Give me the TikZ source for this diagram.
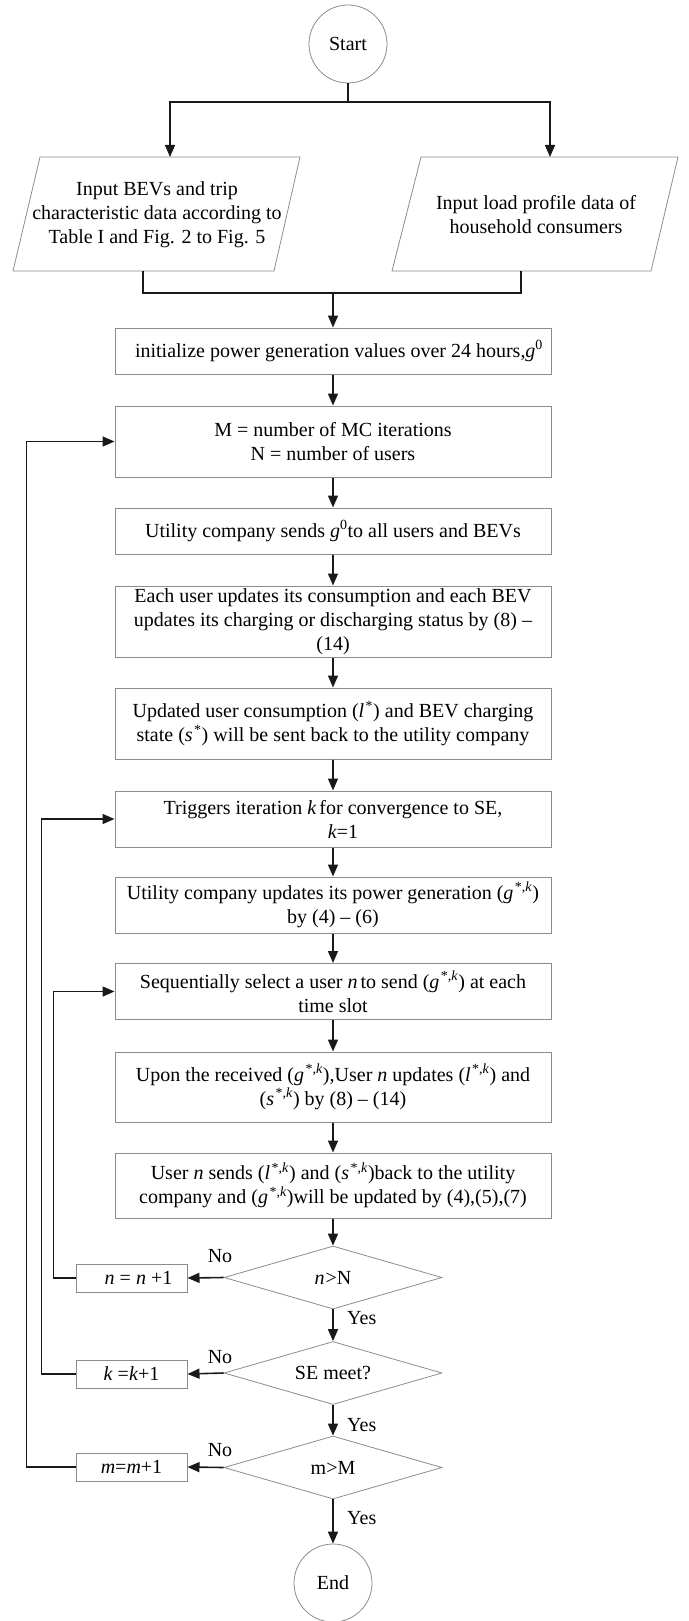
\documentclass[tikz,border=0pt]{standalone}
\usepackage{fontspec}
\setmainfont{Liberation Serif}
\usetikzlibrary{arrows.meta,shapes.geometric}
\newcommand{\supk}{\kern1.5pt\textsuperscript{*,\textit{k}}}
\begin{document}
\begin{tikzpicture}[x=1pt,y=-1pt,
  font=\fontsize{20}{24}\selectfont,
  conn/.style={line width=1.6pt, draw=black!90},
  arr/.style={conn, -{Triangle[length=12pt,width=10pt]}},
  pbox/.style={draw=black!45, line width=1pt, fill=white, minimum width=436pt, inner sep=0pt, align=center},
  sbox/.style={draw=black!45, line width=1pt, fill=white, minimum width=111pt, minimum height=28pt, inner sep=0pt},
  dec/.style={diamond, draw=black!45, line width=0.8pt, fill=white, aspect=3.46, minimum width=218pt, minimum height=63pt, inner sep=0pt},
  term/.style={circle, draw=black!45, line width=0.8pt, fill=white, minimum size=78pt, inner sep=0pt},
  para/.style={draw=black!45, line width=0.8pt},
  lbl/.style={inner sep=0pt}
]
\useasboundingbox (0,0) rectangle (688,1621);

% start and inputs
\node[term] (start) at (348,44) {Start};
\coordinate (split) at (348,102);
\draw[para] (40,157) -- (300,157) -- (274,271) -- (13,271) -- cycle;
\draw[para] (421,157) -- (678,157) -- (651,271) -- (392,271) -- cycle;
\coordinate (inLt) at (170,157);
\coordinate (inRt) at (550,157);
\coordinate (inLb) at (143,271);
\coordinate (inRb) at (521,271);
\node[lbl, align=center] (inL) at (157,215) {Input BEVs and trip\\characteristic data according to\\Table I and Fig. 2 to Fig. 5};
\node[lbl, align=center] (inR) at (536,215) {Input load profile data of\\household consumers};
\coordinate (merge) at (333,293);

% main boxes
\node[pbox, minimum height=46pt] (b1) at (333,351) {\hspace*{12pt}initialize power generation values over 24 hours,\textit{g}\textsuperscript{0}};
\node[pbox, minimum height=71pt] (b2) at (333,441.5) {M = number of MC iterations\\N = number of users};
\node[pbox, minimum height=46pt] (b3) at (333,531) {Utility company sends \textit{g}\textsuperscript{0}to all users and BEVs};
\node[pbox, minimum height=71pt] (b4) at (333,621.5) {Each user updates its consumption and each BEV\\updates its charging or discharging status by (8) --\\(14)};
\node[pbox, minimum height=71pt] (b5) at (333,723.5) {Updated user consumption (\textit{l}\kern1.5pt\textsuperscript{*}) and BEV charging\\state (\textit{s}\kern1.5pt\textsuperscript{*}) will be sent back to the utility company};
\node[pbox, minimum height=56pt] (b6) at (333,819) {Triggers iteration \textit{k}\kern3pt for convergence to SE,\\\hspace*{20pt}\textit{k}=1};
\node[pbox, minimum height=56pt] (b7) at (333,905) {Utility company updates its power generation (\textit{g}\supk)\\by (4) -- (6)};
\node[pbox, minimum height=56pt] (b8) at (333,991.5) {Sequentially select a user \textit{n}\kern3pt to send (\textit{g}\supk) at each\\time slot};
\node[pbox, minimum height=70pt] (b9) at (333,1087) {Upon the received (\textit{g}\supk),User \textit{n} updates (\textit{l}\supk) and\\(\textit{s}\supk) by (8) -- (14)};
\node[pbox, minimum height=65pt] (b10) at (333,1185.5) {User \textit{n} sends (\textit{l}\supk) and (\textit{s}\supk)back to the utility\\company and (\textit{g}\supk)will be updated by (4),(5),(7)};

% decisions
\node[dec] (d1) at (333,1277.5) {\textit{n}\kern1pt>N};
\node[dec] (d2) at (333,1373) {SE meet?};
\node[dec] (d3) at (333,1467.5) {m>M};
\node[sbox] (bn) at (131.5,1278) {\hspace*{14pt}\textit{n} = \textit{n} +1};
\node[sbox] (bk) at (131.5,1374) {\textit{k} =\textit{k}+1};
\node[sbox] (bm) at (131.5,1467) {\textit{m}=\textit{m}+1};
\node[term] (end) at (333,1583) {End};

% labels
\node[lbl] (no1) at (220,1256) {No};
\node[lbl] (no2) at (220,1357) {No};
\node[lbl] (no3) at (220,1450) {No};
\node[lbl, anchor=west] (yes1) at (347,1318) {Yes};
\node[lbl, anchor=west] (yes2) at (347,1425) {Yes};
\node[lbl, anchor=west] (yes3) at (347,1518) {Yes};

% connectors
\draw[conn] (start) -- (split);
\draw[arr] (split) -| (inLt);
\draw[arr] (split) -| (inRt);
\draw[conn] (inLb) |- (merge);
\draw[conn] (inRb) |- (merge);
\draw[arr] (merge) -- (b1);
\draw[arr] (b1) -- (b2);
\draw[arr] (b2) -- (b3);
\draw[arr] (b3) -- (b4);
\draw[arr] (b4) -- (b5);
\draw[arr] (b5) -- (b6);
\draw[arr] (b6) -- (b7);
\draw[arr] (b7) -- (b8);
\draw[arr] (b8) -- (b9);
\draw[arr] (b9) -- (b10);
\draw[arr] (b10) -- (d1);
\draw[arr] (d1) -- (d2);
\draw[arr] (d2) -- (d3);
\draw[arr] (d3) -- (end);
\draw[arr] (d1.west) -- (bn.east);
\draw[arr] (d2.west) -- (bk.east);
\draw[arr] (d3.west) -- (bm.east);
\draw[arr] (bn.west) -- ++(-22,0) |- (b8.west);
\draw[arr] (bk.west) -- ++(-34,0) |- (b6.west);
\draw[arr] (bm.west) -- ++(-49,0) |- (b2.west);
\end{tikzpicture}
\end{document}
